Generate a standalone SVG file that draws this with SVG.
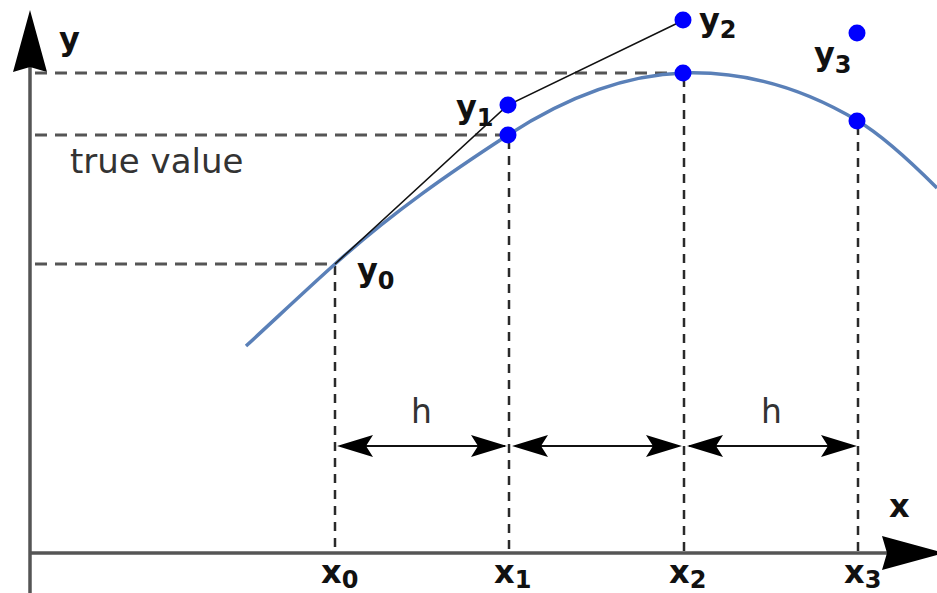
<svg xmlns="http://www.w3.org/2000/svg" width="937" height="593" viewBox="0 0 937 593">
<style>
.axis{stroke:#555;stroke-width:3.5;fill:none}
.hd{stroke:#555;stroke-width:3;fill:none;stroke-dasharray:12,8}
.vd{stroke:#2a2a2a;stroke-width:2.5;fill:none;stroke-dasharray:9,7}
.curve{stroke:#5a80b8;stroke-width:3.5;fill:none}
.euler{stroke:#111;stroke-width:1.5;fill:none}
.dim{stroke:#111;stroke-width:2;fill:none}
.pt{fill:#0000ff}
.lb{font-family:"DejaVu Sans",sans-serif;font-weight:bold;font-size:32px;fill:#111}
.sub{font-size:24px}
.tx{font-family:"DejaVu Sans",sans-serif;font-size:34px;fill:#333}
.ah{fill:#000}
</style>
<defs>
<path id="headR" d="M0,0 L-36,-11 L-29,0 L-36,11 Z"/>
</defs>
<g id="axes">
<line class="axis" x1="30" y1="593" x2="30" y2="60"/>
<line class="axis" x1="30" y1="553" x2="890" y2="553"/>
<path class="ah" d="M30,10 L47,72 L30,67 L13,72 Z"/>
<path class="ah" d="M944,553 L882,536 L887,553 L882,570 Z"/>
</g>
<g id="guides">
<line class="hd" x1="35" y1="73" x2="680" y2="73"/>
<line class="hd" x1="35" y1="135" x2="500" y2="135"/>
<line class="hd" x1="35" y1="264" x2="335" y2="264"/>
<line class="vd" x1="335" y1="266" x2="335" y2="553"/>
<line class="vd" x1="509" y1="140" x2="509" y2="553"/>
<line class="vd" x1="684" y1="78" x2="684" y2="553"/>
<line class="vd" x1="858" y1="126" x2="858" y2="553"/>
</g>
<g id="curve">
<path class="curve" d="M246,346 C275.7,318.7 305.3,290.7 335,264 C392.7,212.1 450.3,172.5 508,135 C566.7,96.9 625.3,74.8 684,73 C742,71.3 800,86.2 858,121 C884.3,136.8 910.7,161.7 937,188"/>
</g>
<g id="connectors">
<polyline class="euler" points="335,264 508,105 684,20"/>
<line class="dim" x1="340" y1="446" x2="505" y2="446"/>
<line class="dim" x1="515" y1="446" x2="679" y2="446"/>
<line class="dim" x1="689" y1="446" x2="853" y2="446"/>
<use href="#headR" transform="translate(337,446) rotate(180)"/>
<use href="#headR" transform="translate(507,446)"/>
<use href="#headR" transform="translate(512,446) rotate(180)"/>
<use href="#headR" transform="translate(682,446)"/>
<use href="#headR" transform="translate(687,446) rotate(180)"/>
<use href="#headR" transform="translate(857,446)"/>
</g>
<g id="points">
<circle class="pt" cx="508" cy="105" r="8.5"/>
<circle class="pt" cx="508" cy="135" r="8.5"/>
<circle class="pt" cx="683" cy="20" r="8.5"/>
<circle class="pt" cx="683" cy="73" r="8.5"/>
<circle class="pt" cx="857" cy="33" r="8.5"/>
<circle class="pt" cx="857" cy="121" r="8.5"/>
</g>
<g id="labels">
<text class="lb" x="59" y="50">y</text>
<text class="lb" x="889" y="517">x</text>
<text class="lb" x="357" y="281">y<tspan class="sub" dy="8">0</tspan></text>
<text class="lb" x="456" y="118">y<tspan class="sub" dy="8">1</tspan></text>
<text class="lb" x="699" y="31">y<tspan class="sub" dy="7">2</tspan></text>
<text class="lb" x="814" y="65">y<tspan class="sub" dy="8">3</tspan></text>
<text class="lb" x="321" y="583">x<tspan class="sub" dy="5">0</tspan></text>
<text class="lb" x="494" y="583">x<tspan class="sub" dy="5">1</tspan></text>
<text class="lb" x="669" y="583">x<tspan class="sub" dy="5">2</tspan></text>
<text class="lb" x="844" y="583">x<tspan class="sub" dy="5">3</tspan></text>
<text class="tx" x="411" y="423" style="font-size:33px">h</text>
<text class="tx" x="761" y="423" style="font-size:33px">h</text>
<text class="tx" x="70" y="173">true value</text>
</g>
</svg>
